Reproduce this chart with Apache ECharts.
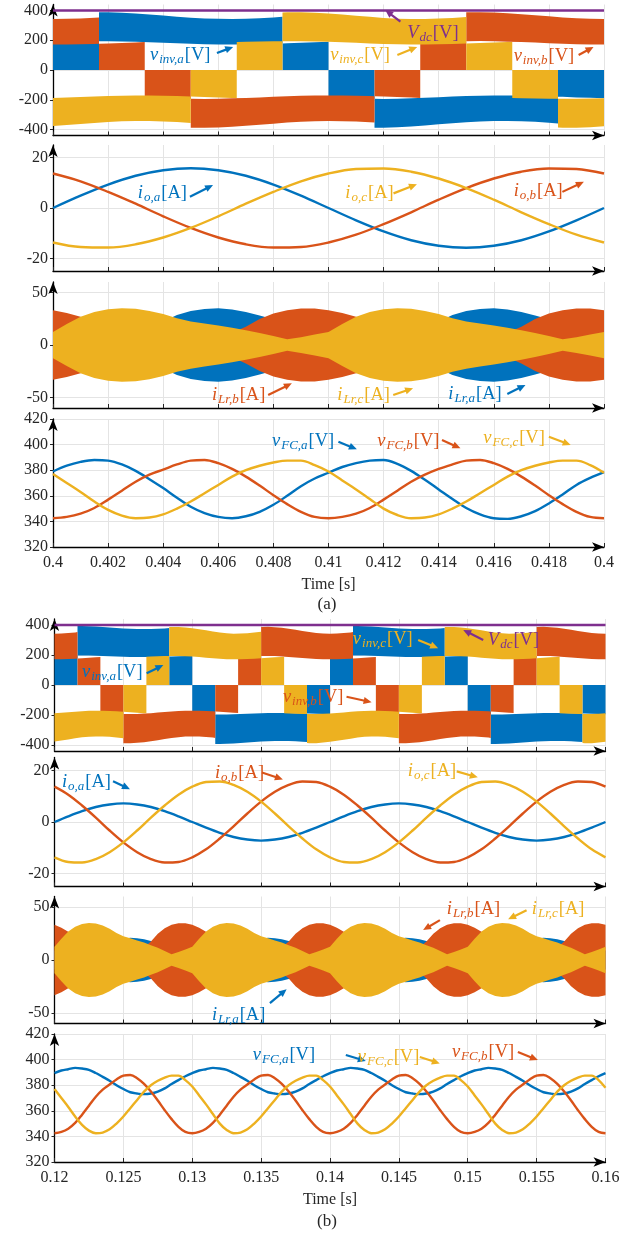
<!DOCTYPE html>
<html>
<head>
<meta charset="utf-8">
<script src="https://cdn.jsdelivr.net/npm/echarts@6/dist/echarts.min.js"></script>
<style>
html, body { margin: 0; padding: 0; background: #fff; }
#c { width: 641px; height: 1246px; }
</style>
</head>
<body>
<div id="c"></div>
<script>
// ---------- sample grids ----------
function seq(t0, dt, n) { return Array.from({ length: n }, (_, k) => +(t0 + k * dt).toFixed(5)); }
const tA1 = seq(0.400, 0.001, 21);    // case (a), 1 ms samples
const tA05 = seq(0.400, 0.0005, 41);  // case (a), 0.5 ms samples
const tB1 = seq(0.120, 0.001, 41);    // case (b), 1 ms samples
const tB05 = seq(0.120, 0.0005, 81);  // case (b), 0.5 ms samples

// ---------- tick labels ----------
const xTicksA = ['0.4', '0.402', '0.404', '0.406', '0.408', '0.41', '0.412', '0.414', '0.416', '0.418', '0.4'];
const xTicksB = ['0.12', '0.125', '0.13', '0.135', '0.14', '0.145', '0.15', '0.155', '0.16'];
const yTicksInv = [-400, -200, 0, 200, 400];
const yTicksIo = [-20, 0, 20];
const yTicksLr = [-50, 0, 50];

// ---------- case (a) ----------
const vdcA = [400, 400];
// inverter output: switching instants and the band each phase sits in
// (±1: between 0 and v_FC/2, ±2: between v_FC/2 and v_FC)
const invA_a = { times: [0.4, 0.40167, 0.40833, 0.41, 0.41167, 0.41833, 0.42], levels: [1, 2, 1, -1, -2, -1] };
const invB_a = { times: [0.4, 0.40167, 0.40333, 0.405, 0.41167, 0.41333, 0.415, 0.42], levels: [2, 1, -1, -2, -1, 1, 2] };
const invC_a = { times: [0.4, 0.405, 0.40667, 0.40833, 0.415, 0.41667, 0.41833, 0.42], levels: [-2, -1, 1, 2, 1, -1, -2] };

const ioA_a = [0, 4.9, 9.3, 12.8, 15.0, 15.8, 15.0, 12.8, 9.3, 4.9, 0, -4.9, -9.3, -12.8, -15.0, -15.8, -15.0, -12.8, -9.3, -4.9, 0];
const ioB_a = [13.7, 10.6, 6.4, 1.7, -3.3, -7.9, -11.7, -14.4, -15.7, -15.5, -13.7, -10.6, -6.4, -1.7, 3.3, 7.9, 11.7, 14.4, 15.7, 15.5, 13.7];
const ioC_a = [-13.7, -15.5, -15.7, -14.4, -11.7, -7.9, -3.3, 1.7, 6.4, 10.6, 13.7, 15.5, 15.7, 14.4, 11.7, 7.9, 3.3, -1.7, -6.4, -10.6, -13.7];

// resonant-inductor current envelopes (peak of the switching ripple), 0.5 ms samples
const lrA_a = [15.7, 13.2, 10.5, 7.5, 6, 8.3, 10.8, 15, 22.3, 28.5, 32.3, 34.3, 35, 33.8, 31.5, 28.2, 24.5, 21.8, 19.8, 17.8,
               15.7, 13.2, 10.5, 7.5, 6, 8.3, 10.8, 15, 22.3, 28.5, 32.3, 34.3, 35, 33.8, 31.5, 28.2, 24.5, 21.8, 19.8, 17.8, 15.7];
const lrB_a = [33.2, 30.5, 26.8, 23.5, 21.2, 19.2, 17.2, 14.8, 12.3, 9.5, 6.5, 6.8, 9.2, 11.7, 17.5, 24.7, 30, 33.2, 34.7, 34.7,
               33.2, 30.5, 26.8, 23.5, 21.2, 19.2, 17.2, 14.8, 12.3, 9.5, 6.5, 6.8, 9.2, 11.7, 17.5, 24.7, 30, 33.2, 34.7, 34.7, 33.2];
const lrC_a = [12.5, 20, 27, 31.5, 34, 35, 34.5, 32.5, 29.5, 25.5, 22.5, 20.5, 18.5, 16.5, 14, 11.5, 8.5, 5.5, 7.5, 10,
               12.5, 20, 27, 31.5, 34, 35, 34.5, 32.5, 29.5, 25.5, 22.5, 20.5, 18.5, 16.5, 14, 11.5, 8.5, 5.5, 7.5, 10, 12.5];

// flying-capacitor voltages, 0.5 ms samples
const vfcA_a = [379, 383.5, 386.5, 388, 387.5, 384.5, 379.5, 373, 366, 358.5, 351.5, 346.5, 343.5, 342.5, 344, 347.5, 353, 360, 367.5, 373.5,
                378, 382.5, 385.5, 387.5, 388, 385, 379.5, 372.5, 365, 357.5, 350.5, 345.5, 342.5, 342, 344, 348, 354, 361, 368.5, 374, 378.5];
const vfcB_a = [342.5, 343.5, 346, 350.5, 357, 364, 371, 376.5, 380.5, 384.5, 387.5, 388, 385.5, 381, 375, 368, 360.5, 353.5, 347.5, 343.5,
                342.5, 343.5, 346, 350.5, 357, 364, 371, 376.5, 381, 384.5, 387.5, 388, 385.5, 381, 375, 368, 360.5, 353.5, 347.5, 343.5, 342.5];
const vfcC_a = [377, 370, 363, 355.5, 349, 344.5, 342.5, 343, 345.5, 350, 355.5, 362, 368.5, 375, 380, 383.5, 386, 387.5, 387.5, 384,
                379, 372, 365, 357.5, 350, 345, 342.5, 343, 345.5, 350, 355.5, 362, 368.5, 375, 380, 383.5, 386, 387.5, 387.5, 384, 378];

// ---------- case (b) ----------
const vdcB = [400, 400];
const invA_b = { times: [0.12, 0.12167, 0.12833, 0.13, 0.13167, 0.13833, 0.14, 0.14167, 0.14833, 0.15, 0.15167, 0.15833, 0.16],
                 levels: [1, 2, 1, -1, -2, -1, 1, 2, 1, -1, -2, -1] };
const invB_b = { times: [0.12, 0.12167, 0.12333, 0.125, 0.13167, 0.13333, 0.135, 0.14167, 0.14333, 0.145, 0.15167, 0.15333, 0.155, 0.16],
                 levels: [2, 1, -1, -2, -1, 1, 2, 1, -1, -2, -1, 1, 2] };
const invC_b = { times: [0.12, 0.125, 0.12667, 0.12833, 0.135, 0.13667, 0.13833, 0.145, 0.14667, 0.14833, 0.155, 0.15667, 0.15833, 0.16],
                 levels: [-2, -1, 1, 2, 1, -1, -2, -1, 1, 2, 1, -1, -2] };

const ioA_b = [0, 2.2, 4.2, 5.8, 6.8, 7.2, 6.8, 5.8, 4.2, 2.2, 0, -2.2, -4.2, -5.8, -6.8, -7.2, -6.8, -5.8, -4.2, -2.2,
               0, 2.2, 4.2, 5.8, 6.8, 7.2, 6.8, 5.8, 4.2, 2.2, 0, -2.2, -4.2, -5.8, -6.8, -7.2, -6.8, -5.8, -4.2, -2.2, 0];
const ioB_b = [13.7, 10.6, 6.4, 1.7, -3.3, -7.9, -11.7, -14.4, -15.7, -15.5, -13.7, -10.6, -6.4, -1.7, 3.3, 7.9, 11.7, 14.4, 15.7, 15.5,
               13.7, 10.6, 6.4, 1.7, -3.3, -7.9, -11.7, -14.4, -15.7, -15.5, -13.7, -10.6, -6.4, -1.7, 3.3, 7.9, 11.7, 14.4, 15.7, 15.5, 13.7];
const ioC_b = [-13.7, -15.5, -15.7, -14.4, -11.7, -7.9, -3.3, 1.7, 6.4, 10.6, 13.7, 15.5, 15.7, 14.4, 11.7, 7.9, 3.3, -1.7, -6.4, -10.6,
               -13.7, -15.5, -15.7, -14.4, -11.7, -7.9, -3.3, 1.7, 6.4, 10.6, 13.7, 15.5, 15.7, 14.4, 11.7, 7.9, 3.3, -1.7, -6.4, -10.6, -13.7];

const lrA_b = [9, 8, 7, 6, 5.5, 6, 7, 9, 11.5, 14.5, 20, 21, 20.5, 19.5, 18, 16, 14, 12.5, 11, 10,
               9, 8, 7, 6, 5.5, 6, 7, 9, 11.5, 14.5, 20, 21, 20.5, 19.5, 18, 16, 14, 12.5, 11, 10,
               9, 8, 7, 6, 5.5, 6, 7, 9, 11.5, 14.5, 20, 21, 20.5, 19.5, 18, 16, 14, 12.5, 11, 10,
               9, 8, 7, 6, 5.5, 6, 7, 9, 11.5, 14.5, 20, 21, 20.5, 19.5, 18, 16, 14, 12.5, 11, 10, 9];
const lrB_b = [33.2, 30.5, 26.8, 23.5, 21.2, 19.2, 17.2, 14.8, 12.3, 9.5, 6.5, 6.8, 9.2, 11.7, 17.5, 24.7, 30, 33.2, 34.7, 34.7,
               33.2, 30.5, 26.8, 23.5, 21.2, 19.2, 17.2, 14.8, 12.3, 9.5, 6.5, 6.8, 9.2, 11.7, 17.5, 24.7, 30, 33.2, 34.7, 34.7,
               33.2, 30.5, 26.8, 23.5, 21.2, 19.2, 17.2, 14.8, 12.3, 9.5, 6.5, 6.8, 9.2, 11.7, 17.5, 24.7, 30, 33.2, 34.7, 34.7,
               33.2, 30.5, 26.8, 23.5, 21.2, 19.2, 17.2, 14.8, 12.3, 9.5, 6.5, 6.8, 9.2, 11.7, 17.5, 24.7, 30, 33.2, 34.7, 34.7, 33.2];
const lrC_b = [12.5, 20, 27, 31.5, 34, 35, 34.5, 32.5, 29.5, 25.5, 22.5, 20.5, 18.5, 16.5, 14, 11.5, 8.5, 5.5, 7.5, 10,
               12.5, 20, 27, 31.5, 34, 35, 34.5, 32.5, 29.5, 25.5, 22.5, 20.5, 18.5, 16.5, 14, 11.5, 8.5, 5.5, 7.5, 10,
               12.5, 20, 27, 31.5, 34, 35, 34.5, 32.5, 29.5, 25.5, 22.5, 20.5, 18.5, 16.5, 14, 11.5, 8.5, 5.5, 7.5, 10,
               12.5, 20, 27, 31.5, 34, 35, 34.5, 32.5, 29.5, 25.5, 22.5, 20.5, 18.5, 16.5, 14, 11.5, 8.5, 5.5, 7.5, 10, 12.5];

// flying-capacitor voltages, 0.5 ms samples
const vfcA_b = [389.5, 391.5, 392.5, 393.5, 393, 392, 389.5, 386.5, 383.5, 380, 377, 374.5, 373.5, 373, 373.5, 375, 377.5, 381, 384, 387,
                389.5, 391.5, 392.5, 393.5, 393, 392, 389.5, 386.5, 383.5, 380, 377, 374.5, 373.5, 373, 373.5, 375, 377.5, 381, 384, 387,
                389.5, 391.5, 392.5, 393.5, 393, 392, 389.5, 386.5, 383.5, 380, 377, 374.5, 373.5, 373, 373.5, 375, 377.5, 381, 384, 387,
                389.5, 391.5, 392.5, 393.5, 393, 392, 389.5, 386.5, 383.5, 380, 377, 374.5, 373.5, 373, 373.5, 375, 377.5, 381, 384, 387, 389.5];
const vfcB_b = [342.5, 343.5, 346, 350.5, 357, 364, 371, 376.5, 380.5, 384.5, 387.5, 388, 385.5, 381, 375, 368, 360.5, 353.5, 347.5, 343.5,
                342.5, 343.5, 346, 350.5, 357, 364, 371, 376.5, 380.5, 384.5, 387.5, 388, 385.5, 381, 375, 368, 360.5, 353.5, 347.5, 343.5,
                342.5, 343.5, 346, 350.5, 357, 364, 371, 376.5, 380.5, 384.5, 387.5, 388, 385.5, 381, 375, 368, 360.5, 353.5, 347.5, 343.5,
                342.5, 343.5, 346, 350.5, 357, 364, 371, 376.5, 380.5, 384.5, 387.5, 388, 385.5, 381, 375, 368, 360.5, 353.5, 347.5, 343.5, 342.5];
const vfcC_b = [377, 370, 363, 355.5, 349, 344.5, 342.5, 343, 345.5, 350, 355.5, 362, 368.5, 375, 380, 383.5, 386, 387.5, 387.5, 384,
                379, 372, 365, 357.5, 350, 345, 342.5, 343, 345.5, 350, 355.5, 362, 368.5, 375, 380, 383.5, 386, 387.5, 387.5, 384,
                379, 372, 365, 357.5, 350, 345, 342.5, 343, 345.5, 350, 355.5, 362, 368.5, 375, 380, 383.5, 386, 387.5, 387.5, 384,
                379, 372, 365, 357.5, 350, 345, 342.5, 343, 345.5, 350, 355.5, 362, 368.5, 375, 380, 383.5, 386, 387.5, 387.5, 384, 378];

// ---------- styling ----------
const COL = { a: '#0072BD', b: '#D95319', c: '#EDB120', dc: '#7E2F8E' };
const FONT = 'Liberation Serif';
const TXT = '#262626';
const GRIDLINE = '#e4e4e4';

// plot rectangles, top to bottom
const grids = [
  { left: 53, right: 37, top: 4.5, height: 131 },
  { left: 53, right: 37, top: 145, height: 126 },
  { left: 53, right: 37, top: 282, height: 126 },
  { left: 53, right: 37, top: 419, height: 128 },
  { left: 54.5, right: 35.5, top: 619, height: 132 },
  { left: 54.5, right: 35.5, top: 757.5, height: 129 },
  { left: 54.5, right: 35.5, top: 896.5, height: 127 },
  { left: 54.5, right: 35.5, top: 1034, height: 128 }
];

function xAxis(gi, min, max, interval, labels, last) {
  return {
    type: 'value', gridIndex: gi, min, max, interval,
    axisLine: { show: true, onZero: false, lineStyle: { color: '#000', width: 1.3 }, symbol: ['none', 'arrow'], symbolSize: [7, 12] },
    axisTick: { show: true, inside: true, length: 4, lineStyle: { color: TXT } },
    axisLabel: { show: last, formatter: (v, i) => labels[i], fontFamily: FONT, fontSize: 16, color: TXT, margin: 8 },
    splitLine: { show: true, lineStyle: { color: GRIDLINE, width: 1 } },
    name: last ? 'Time [s]' : '', nameLocation: 'middle', nameGap: 30,
    nameTextStyle: { fontFamily: FONT, fontSize: 16, color: TXT }
  };
}
function yAxis(gi, min, max, ticks, interval) {
  const ax = {
    type: 'value', gridIndex: gi, min, max,
    axisLine: { show: true, onZero: false, lineStyle: { color: '#000', width: 1.3 }, symbol: ['none', 'arrow'], symbolSize: [7, 12] },
    axisTick: { show: true, length: 3, lineStyle: { color: TXT } },
    axisLabel: { fontFamily: FONT, fontSize: 16, color: TXT, margin: 5 },
    splitLine: { show: true, lineStyle: { color: GRIDLINE, width: 1 } }
  };
  if (interval) ax.interval = interval;
  else { ax.axisTick.customValues = ticks; ax.axisLabel.customValues = ticks; }
  return ax;
}

const xAxes = [], yAxes = [];
for (let g = 0; g < 4; g++) xAxes.push(xAxis(g, 0.4, 0.42, 0.002, xTicksA, g === 3));
for (let g = 4; g < 8; g++) xAxes.push(xAxis(g, 0.12, 0.16, 0.005, xTicksB, g === 7));
[0, 4].forEach(o => {
  yAxes[o] = yAxis(o, -440, 440, yTicksInv);
  yAxes[o + 1] = yAxis(o + 1, -25, 25, yTicksIo);
  yAxes[o + 2] = yAxis(o + 2, -60, 60, yTicksLr);
  yAxes[o + 3] = yAxis(o + 3, 320, 420, null, 20);
});

// ---------- series builders ----------
function zip(t, v) { return t.map((x, i) => [x, v[i]]); }

function lineSeries(g, t, v, color, width) {
  return {
    type: 'line', xAxisIndex: g, yAxisIndex: g, data: zip(t, v), smooth: 0.35,
    showSymbol: false, symbol: 'none', silent: true, animation: false,
    lineStyle: { color, width: width || 2.4 }, itemStyle: { color }
  };
}

// capacitor voltage samples between t0 and t1 (ends linearly interpolated)
function edgeSamples(t0, t1, tv, vals) {
  const at = t => {
    for (let i = 0; i < tv.length - 1; i++) {
      if (t >= tv[i] && t <= tv[i + 1]) return vals[i] + (vals[i + 1] - vals[i]) * (t - tv[i]) / (tv[i + 1] - tv[i]);
    }
    return vals[vals.length - 1];
  };
  const out = [[t0, at(t0)]];
  tv.forEach((t, i) => { if (t > t0 && t < t1) out.push([t, vals[i]]); });
  out.push([t1, at(t1)]);
  return out;
}

// switched inverter voltage drawn as filled bands between adjacent levels
function invSeries(g, seg, tv, vfc, color) {
  const data = seg.levels.map((lv, k) => [seg.times[k], seg.times[k + 1], lv]);
  return {
    type: 'custom', xAxisIndex: g, yAxisIndex: g, clip: true, silent: true, animation: false,
    encode: { x: [0, 1], y: 2 }, data,
    renderItem(params, api) {
      const t0 = api.value(0), t1 = api.value(1), lv = api.value(2);
      const s = Math.sign(lv), outer = Math.abs(lv) === 2;
      const hi = outer ? 1 : 0.5, lo = outer ? 0.5 : 0;
      const pts = edgeSamples(t0, t1, tv, vfc);
      const top = pts.map(p => api.coord([p[0], s * hi * p[1]]));
      const bot = pts.map(p => api.coord([p[0], s * lo * p[1]])).reverse();
      return { type: 'polygon', shape: { points: top.concat(bot) }, style: { fill: color } };
    }
  };
}

// high-frequency inductor current drawn as a band between ±envelope
function envSeries(g, t, env, color) {
  return {
    type: 'custom', xAxisIndex: g, yAxisIndex: g, clip: true, silent: true, animation: false,
    encode: { x: 0, y: 1 }, data: [[t[0], 0]],
    renderItem(params, api) {
      const up = t.map((x, i) => api.coord([x, env[i]]));
      const dn = t.map((x, i) => api.coord([x, -env[i]])).reverse();
      return { type: 'polygon', shape: { points: up.concat(dn) }, style: { fill: color } };
    }
  };
}

const series = [];
function addCase(o, t1, t05, tEnds, d) {
  series.push(invSeries(o, d.invA, t05, d.vfcA, COL.a));
  series.push(invSeries(o, d.invB, t05, d.vfcB, COL.b));
  series.push(invSeries(o, d.invC, t05, d.vfcC, COL.c));
  series.push(lineSeries(o, tEnds, d.vdc, COL.dc, 2.4));
  series.push(lineSeries(o + 1, t1, d.ioA, COL.a));
  series.push(lineSeries(o + 1, t1, d.ioB, COL.b));
  series.push(lineSeries(o + 1, t1, d.ioC, COL.c));
  series.push(envSeries(o + 2, t05, d.lrA, COL.a));
  series.push(envSeries(o + 2, t05, d.lrB, COL.b));
  series.push(envSeries(o + 2, t05, d.lrC, COL.c));
  series.push(lineSeries(o + 3, t05, d.vfcA, COL.a));
  series.push(lineSeries(o + 3, t05, d.vfcB, COL.b));
  series.push(lineSeries(o + 3, t05, d.vfcC, COL.c));
}
addCase(0, tA1, tA05, [0.4, 0.42], {
  invA: invA_a, invB: invB_a, invC: invC_a, vdc: vdcA,
  ioA: ioA_a, ioB: ioB_a, ioC: ioC_a, lrA: lrA_a, lrB: lrB_a, lrC: lrC_a,
  vfcA: vfcA_a, vfcB: vfcB_a, vfcC: vfcC_a
});
addCase(4, tB1, tB05, [0.12, 0.16], {
  invA: invA_b, invB: invB_b, invC: invC_b, vdc: vdcB,
  ioA: ioA_b, ioB: ioB_b, ioC: ioC_b, lrA: lrA_b, lrB: lrB_b, lrC: lrC_b,
  vfcA: vfcA_b, vfcB: vfcB_b, vfcC: vfcC_b
});

const chart = echarts.init(document.getElementById('c'), null, { renderer: 'canvas', width: 641, height: 1246 });
chart.setOption({
  animation: false,
  backgroundColor: '#fff',
  grid: grids.map(g => Object.assign({ containLabel: false }, g)),
  xAxis: xAxes, yAxis: yAxes, series
});

// ---------- annotations: label anchor and arrow, in data units of each panel ----------
const notes = [
  { g: 0, at: [0.40352, 100], c: COL.a, main: 'v', sub: 'inv,a', unit: '[V]', arrow: [0.40595, 114, 0.40654, 155] },
  { g: 0, at: [0.41006, 100], c: COL.c, main: 'v', sub: 'inv,c', unit: '[V]', arrow: [0.41250, 101, 0.41322, 155] },
  { g: 0, at: [0.41672, 95], c: COL.b, main: 'v', sub: 'inv,b', unit: '[V]', arrow: [0.41908, 101, 0.41962, 155] },
  { g: 0, at: [0.41286, 249], c: COL.dc, main: 'V', sub: 'dc', unit: '[V]', arrow: [0.41261, 325, 0.41206, 403] },
  { g: 1, at: [0.40308, 5.9], c: COL.a, main: 'i', sub: 'o,a', unit: '[A]', arrow: [0.40497, 4.5, 0.40581, 9.1] },
  { g: 1, at: [0.41061, 5.9], c: COL.c, main: 'i', sub: 'o,c', unit: '[A]', arrow: [0.41236, 5.8, 0.41321, 9.4] },
  { g: 1, at: [0.41672, 6.7], c: COL.b, main: 'i', sub: 'o,b', unit: '[A]', arrow: [0.41849, 6.4, 0.41927, 10.4] },
  { g: 2, at: [0.40577, -47.6], c: COL.b, main: 'i', sub: 'Lr,b', unit: '[A]', arrow: [0.40781, -47.6, 0.40867, -36.5] },
  { g: 2, at: [0.41032, -47.6], c: COL.c, main: 'i', sub: 'Lr,c', unit: '[A]', arrow: [0.41235, -47.6, 0.41307, -41.2] },
  { g: 2, at: [0.41435, -46.7], c: COL.a, main: 'i', sub: 'Lr,a', unit: '[A]', arrow: [0.41649, -46.7, 0.41715, -38] },
  { g: 3, at: [0.40795, 402.8], c: COL.a, main: 'v', sub: 'FC,a', unit: '[V]', arrow: [0.41036, 402.3, 0.41103, 396.3] },
  { g: 3, at: [0.41177, 402.8], c: COL.b, main: 'v', sub: 'FC,b', unit: '[V]', arrow: [0.41412, 403.6, 0.41479, 397.1] },
  { g: 3, at: [0.41562, 405.2], c: COL.c, main: 'v', sub: 'FC,c', unit: '[V]', arrow: [0.41800, 406.2, 0.41879, 399.7] },

  { g: 4, at: [0.12200, 86.7], c: COL.a, main: 'v', sub: 'inv,a', unit: '[V]', arrow: [0.12669, 78, 0.12790, 133] },
  { g: 4, at: [0.13658, -80], c: COL.b, main: 'v', sub: 'inv,b', unit: '[V]', arrow: [0.14120, -78, 0.14302, -115] },
  { g: 4, at: [0.14166, 307], c: COL.c, main: 'v', sub: 'inv,c', unit: '[V]', arrow: [0.14640, 300, 0.14785, 245] },
  { g: 4, at: [0.15146, 300], c: COL.dc, main: 'V', sub: 'dc', unit: '[V]', arrow: [0.15112, 300, 0.14967, 367] },
  { g: 5, at: [0.12054, 15.4], c: COL.a, main: 'i', sub: 'o,a', unit: '[A]', arrow: [0.12425, 15.8, 0.12548, 12.7] },
  { g: 5, at: [0.13165, 18.8], c: COL.b, main: 'i', sub: 'o,b', unit: '[A]', arrow: [0.13506, 19.2, 0.13658, 16.5] },
  { g: 5, at: [0.14565, 19.6], c: COL.c, main: 'i', sub: 'o,c', unit: '[A]', arrow: [0.14920, 19.6, 0.15073, 17.3] },
  { g: 6, at: [0.14848, 48], c: COL.b, main: 'i', sub: 'Lr,b', unit: '[A]', arrow: [0.14798, 37.7, 0.14676, 28.3] },
  { g: 6, at: [0.15465, 48], c: COL.c, main: 'i', sub: 'Lr,c', unit: '[A]', arrow: [0.15427, 47, 0.15293, 38.4] },
  { g: 6, at: [0.13143, -51.9], c: COL.a, main: 'i', sub: 'Lr,a', unit: '[A]', arrow: [0.13564, -40.8, 0.13685, -27.6] },
  { g: 7, at: [0.13440, 403.6], c: COL.a, main: 'v', sub: 'FC,a', unit: '[V]', arrow: [0.14115, 403.6, 0.14260, 398.9] },
  { g: 7, at: [0.14202, 402], c: COL.c, main: 'v', sub: 'FC,c', unit: '[V]', arrow: [0.14652, 402, 0.14797, 397] },
  { g: 7, at: [0.14885, 406], c: COL.b, main: 'v', sub: 'FC,b', unit: '[V]', arrow: [0.15364, 406, 0.15509, 399.6] }
];

function px(g, p) { return chart.convertToPixel({ xAxisIndex: g, yAxisIndex: g }, p); }

function arrowEls(p0, p1, color) {
  const dx = p1[0] - p0[0], dy = p1[1] - p0[1], L = Math.hypot(dx, dy) || 1;
  const ux = dx / L, uy = dy / L, hl = 8, hw = 3.6;
  const bx = p1[0] - ux * hl, by = p1[1] - uy * hl;
  return [
    { type: 'line', silent: true, z: 100, shape: { x1: p0[0], y1: p0[1], x2: bx + ux, y2: by + uy }, style: { stroke: color, lineWidth: 2.2 } },
    { type: 'polygon', silent: true, z: 100, shape: { points: [p1, [bx - uy * hw, by + ux * hw], [bx + uy * hw, by - ux * hw]] }, style: { fill: color } }
  ];
}

function richFor(color) {
  return {
    m: { fontFamily: FONT, fontStyle: 'italic', fontSize: 18.5, fill: color, lineHeight: 20 },
    s: { fontFamily: FONT, fontStyle: 'italic', fontSize: 13, fill: color, lineHeight: 20, padding: [9, 0, 0, 1] },
    n: { fontFamily: FONT, fontSize: 18.5, fill: color, lineHeight: 20, padding: [0, 0, 0, 1] }
  };
}

const graphics = [];
notes.forEach(n => {
  const p = px(n.g, n.at);
  graphics.push({
    type: 'text', silent: true, z: 100, x: p[0], y: p[1],
    style: { text: '{m|' + n.main + '}{s|' + n.sub + '}{n|' + n.unit + '}', rich: richFor(n.c), fill: n.c, align: 'left', verticalAlign: 'middle' }
  });
  const a0 = px(n.g, [n.arrow[0], n.arrow[1]]), a1 = px(n.g, [n.arrow[2], n.arrow[3]]);
  arrowEls(a0, a1, n.c).forEach(e => graphics.push(e));
});
graphics.push({ type: 'text', silent: true, x: 327, y: 605, style: { text: '(a)', fontFamily: FONT, fontSize: 17, fill: TXT, align: 'center', verticalAlign: 'middle' } });
graphics.push({ type: 'text', silent: true, x: 327, y: 1222, style: { text: '(b)', fontFamily: FONT, fontSize: 17, fill: TXT, align: 'center', verticalAlign: 'middle' } });

chart.setOption({ graphic: graphics });
</script>
</body>
</html>
